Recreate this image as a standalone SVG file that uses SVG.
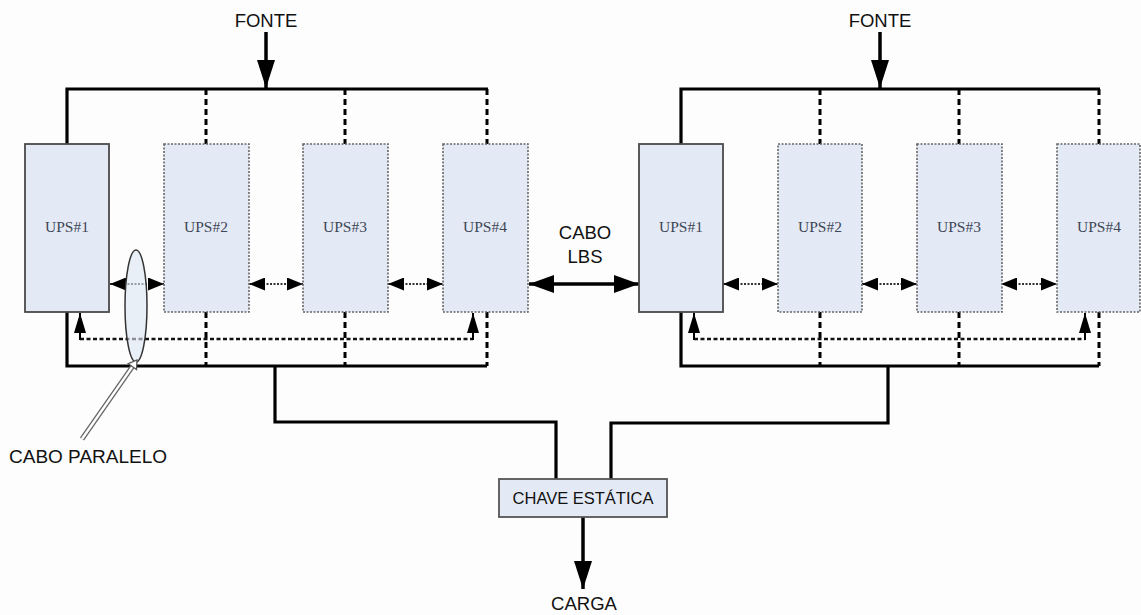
<svg xmlns="http://www.w3.org/2000/svg" width="1141" height="615" viewBox="0 0 1141 615">
<style>
.bg{fill:#fdfdfd}
.ups{fill:#e4eaf5}
.solidb{stroke:#4a4a4a;stroke-width:1.8}
.dotb{stroke:#666;stroke-width:1.6;stroke-dasharray:2 1.5}
.ulbl{font-family:"Liberation Serif",serif;font-size:15.5px;fill:#3e4656;text-anchor:middle}
.lbl{font-family:"Liberation Sans",Arial,sans-serif;font-size:18.5px;fill:#111;text-anchor:middle}
.bus{fill:none;stroke:#000;stroke-width:3.2}
.dv{fill:none;stroke:#000;stroke-width:3;stroke-dasharray:6 4}
.fb{fill:none;stroke:#111;stroke-width:2.4;stroke-dasharray:4 2.5}
.ia{fill:none;stroke:#333;stroke-width:1.8;stroke-dasharray:2 1.5}
</style>
<defs>
<marker id="sm" markerUnits="userSpaceOnUse" markerWidth="16" markerHeight="13" refX="16" refY="6.5" orient="auto-start-reverse"><path d="M0,0 L16,6.5 L0,13 z" fill="#000"/></marker>
<marker id="lg" markerUnits="userSpaceOnUse" markerWidth="25" markerHeight="18" refX="25" refY="9" orient="auto-start-reverse"><path d="M0,0 L25,9 L0,18 z" fill="#000"/></marker>
<marker id="up" markerUnits="userSpaceOnUse" markerWidth="20" markerHeight="12" refX="20" refY="6" orient="auto"><path d="M0,0 L20,6 L0,12 z" fill="#000"/></marker>
<marker id="dn" markerUnits="userSpaceOnUse" markerWidth="28" markerHeight="18" refX="28" refY="9" orient="auto"><path d="M0,0 L28,9 L0,18 z" fill="#000"/></marker>
</defs>
<rect class="bg" x="0" y="0" width="1141" height="615"/>

<g id="connectors">
  <path class="bus" d="M67,144 V89 H488"/>
  <path class="dv" d="M206,89 V144 M345,89 V144 M487,89 V144"/>
  <path class="bus" d="M67,312 V366 H487"/>
  <path class="dv" d="M206,312 V366 M345,312 V366 M487,312 V366"/>
  <path class="bus" d="M681,144 V89 H1100"/>
  <path class="dv" d="M820,89 V144 M959,89 V144 M1099,89 V144"/>
  <path class="bus" d="M681,312 V366 H1099"/>
  <path class="dv" d="M820,312 V366 M959,312 V366 M1099,312 V366"/>
  <path d="M266,32 V88" stroke="#000" stroke-width="3.5" marker-end="url(#dn)"/>
  <path d="M880,32 V88" stroke="#000" stroke-width="3.5" marker-end="url(#dn)"/>
  <path class="fb" d="M80,339 H473"/>
  <path d="M80,340 V313" stroke="#000" stroke-width="2" marker-end="url(#up)"/>
  <path d="M473,340 V313" stroke="#000" stroke-width="2" marker-end="url(#up)"/>
  <path class="fb" d="M694,339 H1085"/>
  <path d="M694,340 V313" stroke="#000" stroke-width="2" marker-end="url(#up)"/>
  <path d="M1085,340 V313" stroke="#000" stroke-width="2" marker-end="url(#up)"/>
  <path class="ia" d="M110,284 H164" marker-start="url(#sm)" marker-end="url(#sm)"/>
  <path class="ia" d="M249,284 H303" marker-start="url(#sm)" marker-end="url(#sm)"/>
  <path class="ia" d="M388,284 H443" marker-start="url(#sm)" marker-end="url(#sm)"/>
  <path class="ia" d="M723,284 H778" marker-start="url(#sm)" marker-end="url(#sm)"/>
  <path class="ia" d="M862,284 H917" marker-start="url(#sm)" marker-end="url(#sm)"/>
  <path class="ia" d="M1001,284 H1057" marker-start="url(#sm)" marker-end="url(#sm)"/>
  <path d="M529,284 H639" stroke="#000" stroke-width="3.5" marker-start="url(#lg)" marker-end="url(#lg)"/>
  <path class="bus" d="M275,366 V422 H556 V479"/>
  <path class="bus" d="M888,366 V423 H611 V479"/>
  <path d="M583,517 V589" stroke="#000" stroke-width="3.5" marker-end="url(#dn)"/>
</g>

<g id="ups1-left"><rect class="ups solidb" x="25" y="144" width="84" height="168"/><text class="ulbl" x="67" y="232">UPS#1</text></g>
<g id="ups2-left"><rect class="ups dotb" x="164" y="144" width="85" height="168"/><text class="ulbl" x="206" y="232">UPS#2</text></g>
<g id="ups3-left"><rect class="ups dotb" x="303" y="144" width="85" height="168"/><text class="ulbl" x="345" y="232">UPS#3</text></g>
<g id="ups4-left"><rect class="ups dotb" x="443" y="144" width="85" height="168"/><text class="ulbl" x="485" y="232">UPS#4</text></g>

<g id="ups1-right"><rect class="ups solidb" x="639" y="144" width="84" height="168"/><text class="ulbl" x="681" y="232">UPS#1</text></g>
<g id="ups2-right"><rect class="ups dotb" x="778" y="144" width="84" height="168"/><text class="ulbl" x="820" y="232">UPS#2</text></g>
<g id="ups3-right"><rect class="ups dotb" x="917" y="144" width="85" height="168"/><text class="ulbl" x="959" y="232">UPS#3</text></g>
<g id="ups4-right"><rect class="ups dotb" x="1057" y="144" width="83" height="168"/><text class="ulbl" x="1099" y="232">UPS#4</text></g>

<g id="cabo-paralelo">
  <ellipse cx="136" cy="306" rx="11" ry="56" fill="#dbe6f4" fill-opacity="0.6" stroke="#333" stroke-width="1.5"/>
  <path d="M82,439 L132.4,366.6" stroke="#666" stroke-width="5" fill="none"/>
  <path d="M82,439 L132.4,366.6" stroke="#fff" stroke-width="2.4" fill="none"/>
  <polygon points="137,360 136.5,369.5 128.3,363.7" fill="#fff" stroke="#555" stroke-width="1.3"/>
  <text class="lbl" x="9" y="463" style="text-anchor:start;font-size:19px">CABO PARALELO</text>
</g>

<g id="chave">
  <rect x="499" y="479" width="168" height="38" fill="#e4eaf5" stroke="#555" stroke-width="1.8"/>
  <text class="lbl" x="583" y="504" style="font-size:16.5px">CHAVE ESTÁTICA</text>
</g>

<g id="labels">
  <text class="lbl" x="266" y="27">FONTE</text>
  <text class="lbl" x="880" y="27">FONTE</text>
  <text class="lbl" x="585" y="239">CABO</text>
  <text class="lbl" x="585" y="263">LBS</text>
  <text class="lbl" x="584" y="610">CARGA</text>
</g>
</svg>
